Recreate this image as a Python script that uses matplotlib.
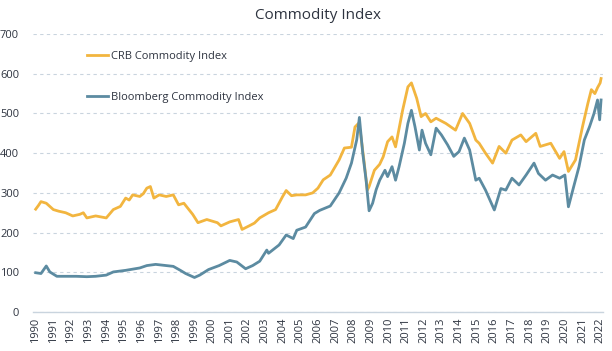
import numpy as np
import matplotlib
matplotlib.use('Agg')
import matplotlib.pyplot as plt

# ─────────────────────────────────────────
# DATA
# ─────────────────────────────────────────
crb_years = [1990.0, 1990.15, 1990.3, 1990.6, 1990.8, 1991.0, 1991.3, 1991.7, 1992.1, 1992.5,
             1992.7, 1992.9, 1993.4, 1994.0, 1994.4, 1994.8, 1995.1, 1995.3, 1995.5, 1995.9,
             1996.1, 1996.3, 1996.5, 1996.7, 1997.0, 1997.4, 1997.8, 1998.1, 1998.4, 1998.9,
             1999.2, 1999.7, 2000.0, 2000.3, 2000.5, 2001.0, 2001.5, 2001.7, 2002.1, 2002.4,
             2002.7, 2003.2, 2003.6, 2004.0, 2004.2, 2004.5, 2004.8, 2005.3, 2005.7, 2006.0,
             2006.3, 2006.7, 2007.2, 2007.5, 2007.9, 2008.1, 2008.3, 2008.4, 2008.6, 2008.8,
             2008.9, 2009.2, 2009.5, 2009.7, 2009.95, 2010.2, 2010.4, 2010.8, 2011.1, 2011.3,
             2011.6, 2011.85, 2012.1, 2012.4, 2012.7, 2013.25, 2013.8, 2014.2, 2014.6, 2014.95,
             2015.14, 2015.5, 2015.9, 2016.27, 2016.65, 2017.0, 2017.5, 2017.8, 2018.35, 2018.6,
             2019.2, 2019.7, 2019.95, 2020.2, 2020.6, 2021.0, 2021.3, 2021.5, 2021.7, 2021.85,
             2022.0, 2022.05]
crb_values = [259, 268, 278, 274, 266, 258, 254, 250, 242, 246,
              250, 237, 242, 237, 258, 266, 287, 282, 295, 291,
              298, 312, 316, 287, 295, 291, 295, 270, 274, 246,
              225, 233, 229, 225, 217, 227, 233, 208, 217, 224,
              237, 250, 258, 291, 306, 293, 295, 295, 300, 312,
              333, 345, 383, 413, 415, 466, 475, 455, 385, 307,
              316, 357, 372, 391, 429, 441, 416, 508, 567, 577,
              538, 492, 500, 479, 488, 475, 458, 500, 475, 433,
              425, 400, 375, 417, 400, 433, 446, 429, 450, 417,
              425, 387, 404, 354, 383, 467, 525, 560, 550, 565,
              577, 588]

bcom_years = [1990.0, 1990.3, 1990.6, 1990.8, 1991.2, 1991.7, 1992.3, 1992.9, 1993.4, 1994.0,
              1994.4, 1995.1, 1995.9, 1996.3, 1996.8, 1997.4, 1997.8, 1998.2, 1998.5, 1999.0,
              1999.3, 1999.8, 2000.4, 2001.0, 2001.4, 2001.9, 2002.3, 2002.7, 2003.1, 2003.2,
              2003.8, 2004.2, 2004.6, 2004.8, 2005.3, 2005.8, 2006.1, 2006.7, 2007.2, 2007.6,
              2007.9, 2008.2, 2008.35, 2008.54, 2008.73, 2008.9, 2009.1, 2009.3, 2009.5, 2009.8,
              2009.95, 2010.2, 2010.4, 2010.6, 2010.9, 2011.1, 2011.3, 2011.5, 2011.75, 2011.9,
              2012.1, 2012.4, 2012.7, 2013.0, 2013.35, 2013.7, 2014.0, 2014.3, 2014.6, 2014.95,
              2015.14, 2015.5, 2016.0, 2016.37, 2016.65, 2017.0, 2017.4, 2017.8, 2018.25, 2018.5,
              2018.9, 2019.3, 2019.7, 2020.0, 2020.2, 2020.5, 2020.8, 2021.1, 2021.4, 2021.65,
              2021.85, 2021.97, 2022.05]
bcom_values = [99, 97, 116, 101, 90, 90, 90, 89, 90, 93,
               101, 105, 111, 117, 120, 117, 115, 105, 97, 87,
               93, 107, 117, 130, 126, 109, 117, 128, 156, 148,
               169, 194, 185, 206, 214, 248, 256, 267, 300, 337,
               375, 434, 490, 400, 332, 255, 274, 308, 332, 357,
               341, 366, 332, 366, 425, 475, 508, 467, 408, 458,
               425, 396, 463, 446, 421, 392, 404, 438, 408, 332,
               337, 307, 257, 311, 307, 337, 320, 345, 375, 349,
               332, 345, 337, 345, 265, 316, 366, 433, 467, 500,
               534, 484, 534]

year_ticks = list(range(1990, 2023))
y_ticks = [0, 100, 200, 300, 400, 500, 600, 700]

CRB_COLOR = '#F2B53F'
BCOM_COLOR = '#5C8BA1'
TEXT_COLOR = '#2E3440'
GRID_COLOR = '#C9D4DE'

plt.rcParams['font.family'] = ['Open Sans', 'DejaVu Sans']

fig = plt.figure(figsize=(6.12, 3.51), dpi=100)
ax = fig.add_axes([0.054, 0.111, 0.931, 0.792])

ax.plot(crb_years, crb_values, color=CRB_COLOR, lw=2.0, label='CRB Commodity Index',
        solid_joinstyle='round')
ax.plot(bcom_years, bcom_values, color=BCOM_COLOR, lw=2.0, label='Bloomberg Commodity Index',
        solid_joinstyle='round')

ax.set_xlim(1989.85, 2022.15)
ax.set_ylim(0, 700)
ax.set_xticks(year_ticks)
ax.set_xticklabels([str(y) for y in year_ticks], rotation=90, fontsize=8, color=TEXT_COLOR)
ax.set_yticks(y_ticks)
ax.set_yticklabels([str(v) for v in y_ticks], fontsize=8, color=TEXT_COLOR)
ax.tick_params(axis='both', length=0)
ax.tick_params(axis='y', pad=10)
ax.tick_params(axis='x', pad=4)

ax.grid(axis='y', color=GRID_COLOR, linestyle=(0, (3, 3)), lw=0.8)
ax.set_axisbelow(True)
for side in ['top', 'right', 'left']:
    ax.spines[side].set_visible(False)
ax.spines['bottom'].set_color(GRID_COLOR)
ax.spines['bottom'].set_linewidth(1.0)

ax.set_title('Commodity Index', fontsize=11, color=TEXT_COLOR, pad=11)

ax.legend(loc='upper left', bbox_to_anchor=(0.085, 0.96), frameon=False, fontsize=8,
          handlelength=1.9, handletextpad=0.3, labelspacing=2.75, borderpad=0,
          labelcolor=TEXT_COLOR)

fig.savefig('out.png', dpi=100)
